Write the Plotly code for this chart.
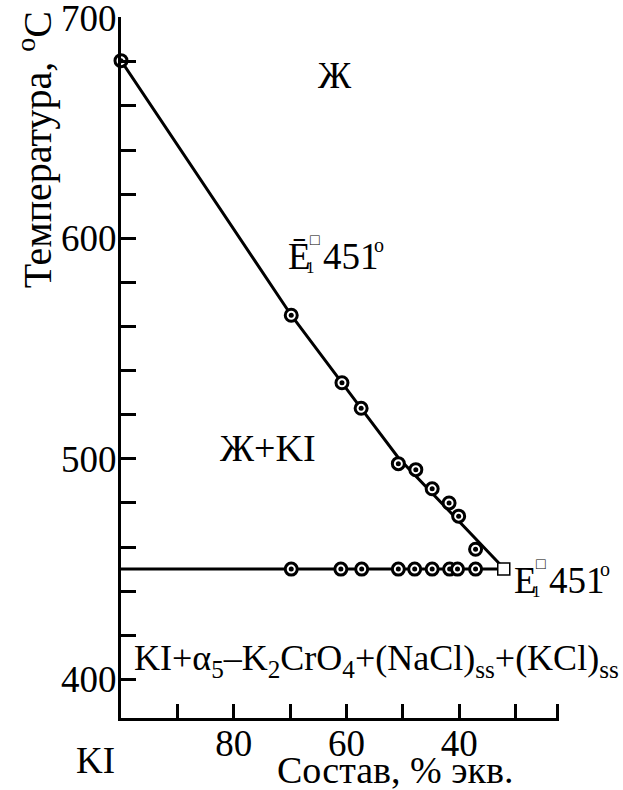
import plotly.graph_objects as go

# --- data ---
# liquidus of KI (circle-with-dot markers)
liq_x = [100, 69.8, 60.8, 57.4, 50.8, 47.7, 44.8, 41.8, 40.1, 37.1]
liq_t = [680.5, 565.1, 534.5, 522.9, 497.8, 495.1, 486.4, 480.0, 474.0, 459.0]
# drawn liquidus curve vertices
curve_x = [100, 69.8, 57.4, 50.8, 32.1]
curve_t = [680.5, 565.1, 522.9, 500.5, 450.4]
# eutectic horizontal (circle-with-dot markers)
eut_x = [69.8, 61.0, 57.3, 50.8, 47.9, 44.8, 41.7, 40.3, 37.1]
eut_t = [450, 450, 450, 450, 450, 450, 450, 450, 450]
eut_line_x = [100, 32.1]
eut_line_t = [450, 450]
# eutectic point E1
e1_x = [32.1]
e1_t = [450]

x_tickvals = [90, 80, 70, 60, 50, 40, 30, 22.5]
x_ticktext = ["", "80", "", "60", "", "40", "", ""]
y_tickvals = [400, 500, 600, 700]
y_ticktext = ["400", "500", "600", "700"]
y_minor = [420, 440, 460, 480, 520, 540, 560, 580, 620, 640, 660, 680]

FONT = "Liberation Serif"
FS = 37

fig = go.Figure()

fig.add_trace(go.Scatter(x=curve_x, y=curve_t, mode="lines",
                         line=dict(color="black", width=3),
                         cliponaxis=False, showlegend=False, hoverinfo="skip"))
fig.add_trace(go.Scatter(x=eut_line_x, y=eut_line_t, mode="lines",
                         line=dict(color="black", width=3),
                         cliponaxis=False, showlegend=False, hoverinfo="skip"))
ring = dict(symbol="circle", size=12, color="white", line=dict(color="black", width=3))
dot = dict(symbol="circle", size=5, color="black", line=dict(width=0))
for xs, ts in ((liq_x, liq_t), (eut_x, eut_t)):
    fig.add_trace(go.Scatter(x=xs, y=ts, mode="markers", marker=ring,
                             cliponaxis=False, showlegend=False))
    fig.add_trace(go.Scatter(x=xs, y=ts, mode="markers", marker=dot,
                             cliponaxis=False, showlegend=False, hoverinfo="skip"))
fig.add_trace(go.Scatter(x=e1_x, y=e1_t, mode="markers",
                         marker=dict(symbol="square", size=12, color="white",
                                     line=dict(color="black", width=1.5)),
                         cliponaxis=False, showlegend=False))

# pixel -> paper helpers (plot area: x 121..559, y 17..718)
def px(p):
    return (p - 121) / 438
def py(p):
    return (717.7 - p) / 701

ann = []
def txt(x, y, s, xanchor="center", size=FS, angle=0):
    ann.append(dict(x=px(x), y=py(y), xref="paper", yref="paper", text=s,
                    showarrow=False, xanchor=xanchor, yanchor="middle",
                    textangle=angle,
                    font=dict(family=FONT, size=size, color="black")))

def eutectic_label(x0, yc, bar):
    # E (with/without bar), stacked subscript 1 and superscript square, 451°
    txt(x0, yc, "Ē" if bar else "E", xanchor="left")
    txt(x0 + 24, yc + 11, "1", size=17)
    txt(x0 + 29, yc - 17, "<b>□</b>", size=16)
    txt(x0 + 35, yc, "451", xanchor="left")
    txt(x0 + 93, yc - 11, "o", size=20)

txt(335, 75, "Ж")
eutectic_label(286, 256, True)
txt(218, 448, "Ж+KI", xanchor="left", size=38)
eutectic_label(512, 580, False)
txt(132, 660,
    "KI+α<sub>5</sub>–K<sub>2</sub>CrO<sub>4</sub>+(NaCl)<sub>ss</sub>+(KCl)<sub>ss</sub>",
    xanchor="left", size=36)
txt(95, 760, "KI")
txt(395, 770, "Состав, % экв.", size=38)
txt(35, 150, "Температура, <sup>o</sup>C", size=40, angle=-90)

fig.update_layout(
    width=623, height=790,
    margin=dict(l=121, r=64, t=17, b=72, autoexpand=False),
    plot_bgcolor="white", paper_bgcolor="white",
    font=dict(family=FONT, size=FS, color="black"),
    annotations=ann,
    showlegend=False,
)
fig.update_xaxes(range=[100, 22.3], tickvals=x_tickvals, ticktext=x_ticktext,
                 ticks="inside", ticklen=14, tickwidth=3, tickcolor="black",
                 showline=True, linewidth=3, linecolor="black",
                 showgrid=False, zeroline=False, ticklabelstandoff=-9,
                 ticklabeloverflow="allow", automargin=False,
                 tickfont=dict(family=FONT, size=FS, color="black"))
fig.update_yaxes(range=[382.5, 700.3], tickvals=y_tickvals, ticktext=y_ticktext,
                 ticks="inside", ticklen=15, tickwidth=3, tickcolor="black",
                 showline=True, linewidth=3, linecolor="black",
                 showgrid=False, zeroline=False, ticklabelstandoff=-6,
                 ticklabeloverflow="allow", automargin=False,
                 minor=dict(tickvals=y_minor,
                            ticks="inside", ticklen=15, tickwidth=3, tickcolor="black",
                            showgrid=False),
                 tickfont=dict(family=FONT, size=FS, color="black"))

fig.write_html("out.html")
